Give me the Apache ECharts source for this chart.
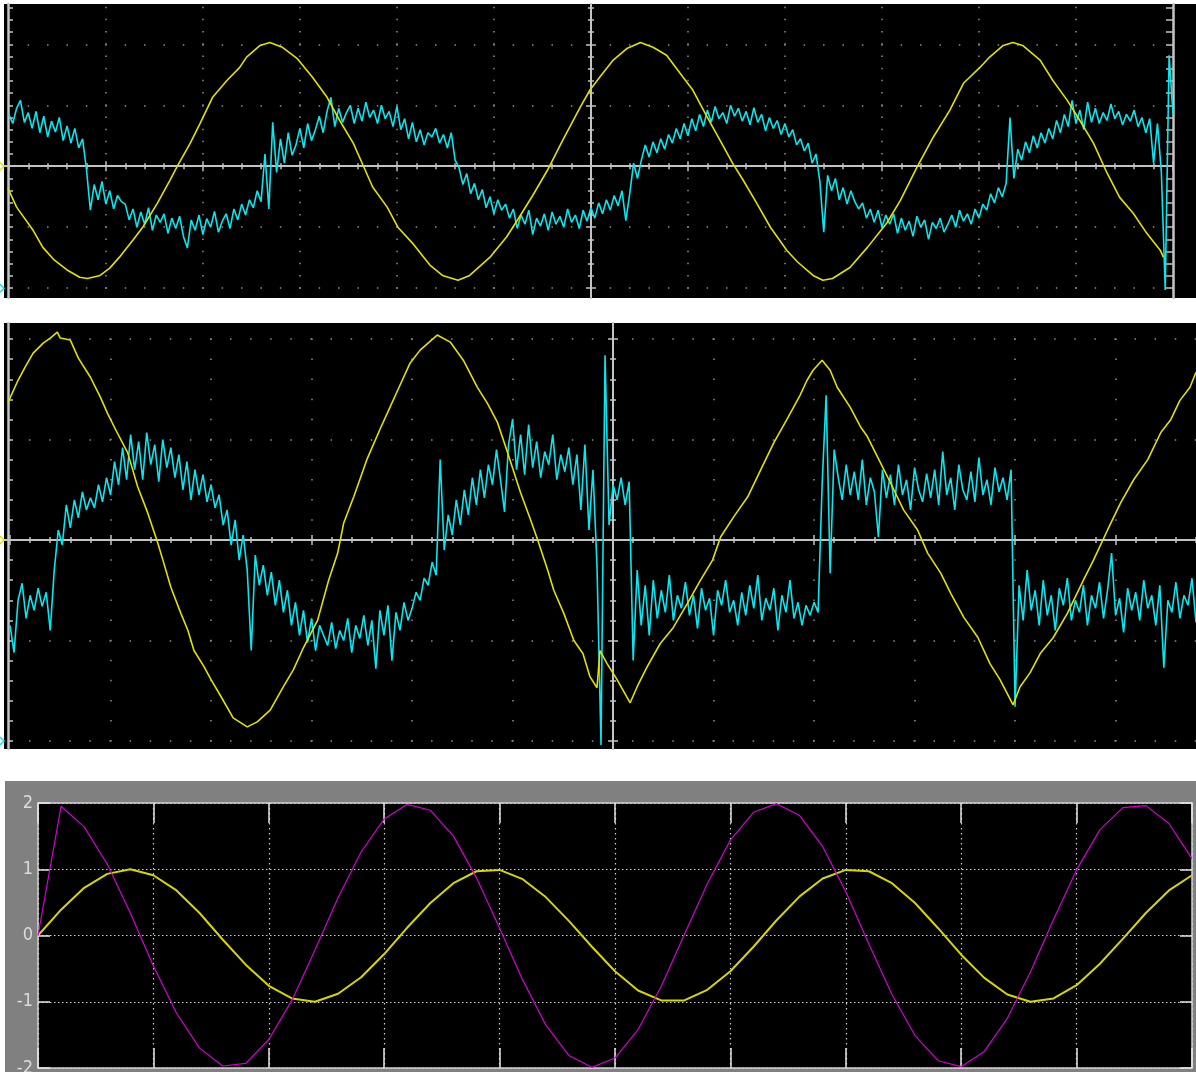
<!DOCTYPE html>
<html>
<head>
<meta charset="utf-8">
<title>scope captures</title>
<script src="https://cdn.jsdelivr.net/npm/echarts@6.0.0/dist/echarts.min.js"></script>
<style>
  html, body { margin: 0; padding: 0; background: #fff; }
  #chart { width: 1196px; height: 1072px; }
</style>
</head>
<body>
<div id="chart"></div>
<script>
// values
// scope units are divisions from the screen centre (x to the right, y up)

// ---- top capture ----
var scope1Yellow = [
  [-6.01, -0.36], [-5.92, -0.67], [-5.75, -1.05], [-5.65, -1.33], [-5.53, -1.54], [-5.40, -1.70],
  [-5.27, -1.82], [-5.19, -1.84], [-5.06, -1.79], [-4.96, -1.67], [-4.86, -1.49], [-4.72, -1.21],
  [-4.62, -1.00], [-4.47, -0.61], [-4.34, -0.23], [-4.27, -0.02], [-4.13, 0.38], [-4.03, 0.70],
  [-3.90, 1.13], [-3.75, 1.41], [-3.62, 1.62], [-3.55, 1.79], [-3.41, 1.98], [-3.31, 2.03],
  [-3.18, 1.95], [-3.03, 1.77], [-2.87, 1.46], [-2.72, 1.13], [-2.59, 0.75], [-2.45, 0.38],
  [-2.35, 0.02], [-2.25, -0.34], [-2.10, -0.67], [-1.99, -1.00], [-1.84, -1.26], [-1.66, -1.62],
  [-1.53, -1.79], [-1.37, -1.87], [-1.25, -1.79], [-1.04, -1.49], [-0.87, -1.16], [-0.76, -0.89],
  [-0.60, -0.48], [-0.45, -0.07], [-0.29, 0.43], [-0.11, 0.97], [-0.01, 1.25], [0.09, 1.46],
  [0.23, 1.74], [0.37, 1.93], [0.51, 2.03], [0.64, 1.95], [0.78, 1.82], [0.95, 1.46],
  [1.05, 1.25], [1.20, 0.80], [1.33, 0.43], [1.46, 0.05], [1.57, -0.23], [1.71, -0.61],
  [1.85, -1.00], [2.02, -1.38], [2.13, -1.57], [2.29, -1.79], [2.39, -1.87], [2.49, -1.84],
  [2.67, -1.66], [2.85, -1.33], [3.05, -0.93], [3.19, -0.56], [3.36, -0.02], [3.53, 0.48],
  [3.70, 0.92], [3.84, 1.36], [4.01, 1.62], [4.11, 1.79], [4.25, 1.98], [4.35, 2.03],
  [4.45, 1.98], [4.63, 1.74], [4.76, 1.41], [4.91, 1.08], [5.04, 0.75], [5.18, 0.38],
  [5.32, -0.11], [5.45, -0.51], [5.59, -0.77], [5.73, -1.10], [5.87, -1.38], [5.90, -1.49]
];
var scope1CyanStart = -6;
var scope1CyanStep = 0.04;
var scope1Cyan = [
  0.85, 0.70, 0.95, 1.08, 0.72, 0.88, 0.62, 0.90, 0.55, 0.82,
  0.48, 0.74, 0.56, 0.80, 0.42, 0.66, 0.38, 0.62, 0.30, 0.45,
  -0.05, -0.72, -0.30, -0.55, -0.25, -0.62, -0.40, -0.70, -0.48, -0.58,
  -0.62, -0.88, -0.70, -1.00, -0.75, -0.95, -0.68, -1.05, -0.80, -0.92,
  -0.78, -1.10, -0.85, -1.02, -0.82, -1.15, -1.34, -0.88, -1.05, -0.80,
  -1.12, -0.86, -1.00, -0.74, -1.08, -0.90, -0.78, -1.02, -0.70, -0.88,
  -0.62, -0.80, -0.55, -0.68, -0.40, -0.58, 0.20, -0.70, 0.72, -0.10,
  0.45, 0.05, 0.55, 0.18, 0.35, 0.62, 0.30, 0.70, 0.42, 0.60,
  0.82, 0.55, 0.90, 1.13, 0.65, 0.95, 0.72, 0.88, 1.00, 0.70,
  0.95, 0.74, 1.05, 0.80, 0.92, 0.70, 1.00, 0.78, 0.90, 0.65,
  0.98, 0.60, 0.78, 0.45, 0.72, 0.40, 0.60, 0.35, 0.55, 0.48,
  0.62, 0.38, 0.52, 0.30, 0.55, 0.10, -0.02, -0.30, -0.12, -0.45,
  -0.28, -0.55, -0.38, -0.68, -0.50, -0.78, -0.55, -0.72, -0.62, -0.85,
  -0.70, -1.02, -0.80, -0.95, -0.72, -1.12, -0.85, -0.98, -0.78, -1.05,
  -0.75, -0.95, -0.82, -1.00, -0.70, -0.92, -0.80, -1.02, -0.72, -0.90,
  -0.68, -0.85, -0.60, -0.78, -0.55, -0.72, -0.48, -0.65, -0.40, -0.89,
  -0.45, 0.05, -0.20, 0.10, 0.35, 0.15, 0.40, 0.22, 0.45, 0.28,
  0.52, 0.38, 0.62, 0.45, 0.70, 0.50, 0.78, 0.58, 0.85, 0.65,
  0.92, 0.72, 0.98, 0.78, 0.88, 0.70, 1.00, 0.82, 0.95, 0.74,
  0.90, 0.68, 0.96, 0.72, 0.85, 0.58, 0.80, 0.62, 0.75, 0.52,
  0.70, 0.48, 0.60, 0.35, 0.45, 0.25, 0.38, 0.05, 0.20, -0.25,
  -1.08, -0.15, -0.40, -0.20, -0.55, -0.35, -0.62, -0.40, -0.58, -0.70,
  -0.60, -0.85, -0.70, -0.92, -0.72, -1.00, -0.80, -0.95, -0.78, -1.10,
  -0.85, -1.05, -0.90, -1.15, -0.82, -1.00, -0.88, -1.20, -0.92, -1.02,
  -0.85, -1.08, -0.95, -0.80, -1.00, -0.72, -0.90, -0.78, -0.95, -0.70,
  -0.85, -0.62, -0.72, -0.45, -0.60, -0.35, -0.50, -0.28, 0.80, -0.20,
  0.28, 0.10, 0.40, 0.22, 0.50, 0.30, 0.55, 0.38, 0.62, 0.45,
  0.75, 0.55, 0.85, 0.65, 1.08, 0.70, 0.92, 0.60, 1.05, 0.72,
  0.95, 0.70, 0.88, 0.75, 1.02, 0.78, 0.90, 0.68, 0.85, 0.74,
  0.92, 0.65, 0.80, 0.55, 0.78, 0.05, 0.70, -0.10, -2.03, 1.82,
  0.85
];

// ---- middle capture ----
var scope2Yellow = [
  [-6.02, 1.37], [-5.92, 1.59], [-5.85, 1.72], [-5.77, 1.86], [-5.67, 1.96], [-5.60, 2.01],
  [-5.53, 2.07], [-5.50, 2.01], [-5.40, 1.99], [-5.32, 1.81], [-5.20, 1.62], [-5.10, 1.42],
  [-5.03, 1.26], [-4.95, 1.10], [-4.83, 0.87], [-4.73, 0.53], [-4.63, 0.27], [-4.53, -0.03],
  [-4.47, -0.23], [-4.40, -0.47], [-4.30, -0.73], [-4.23, -0.90], [-4.17, -1.10], [-4.07, -1.26],
  [-4.00, -1.39], [-3.90, -1.56], [-3.78, -1.77], [-3.64, -1.86], [-3.54, -1.81], [-3.41, -1.69],
  [-3.28, -1.46], [-3.18, -1.29], [-3.08, -1.07], [-2.94, -0.80], [-2.83, -0.40], [-2.74, -0.13],
  [-2.68, 0.17], [-2.58, 0.43], [-2.45, 0.80], [-2.32, 1.10], [-2.22, 1.32], [-2.12, 1.54],
  [-2.02, 1.76], [-1.92, 1.89], [-1.75, 2.04], [-1.62, 1.97], [-1.49, 1.79], [-1.35, 1.52],
  [-1.25, 1.36], [-1.15, 1.17], [-1.05, 0.87], [-0.92, 0.47], [-0.82, 0.20], [-0.75, 0.00],
  [-0.65, -0.30], [-0.59, -0.50], [-0.49, -0.73], [-0.39, -1.00], [-0.30, -1.13], [-0.23, -1.36],
  [-0.16, -1.47], [-0.13, -1.10], [-0.06, -1.23], [0.04, -1.39], [0.17, -1.62], [0.24, -1.46],
  [0.34, -1.26], [0.47, -1.03], [0.60, -0.87], [0.74, -0.63], [0.87, -0.40], [0.99, -0.20],
  [1.07, 0.03], [1.20, 0.23], [1.34, 0.43], [1.47, 0.70], [1.60, 0.97], [1.73, 1.20],
  [1.86, 1.44], [1.93, 1.59], [1.99, 1.69], [2.08, 1.79], [2.16, 1.69], [2.23, 1.52],
  [2.36, 1.32], [2.46, 1.13], [2.53, 1.03], [2.63, 0.83], [2.76, 0.57], [2.89, 0.30],
  [3.03, 0.10], [3.13, -0.13], [3.26, -0.33], [3.36, -0.53], [3.49, -0.77], [3.63, -0.97],
  [3.75, -1.23], [3.85, -1.39], [3.98, -1.64], [4.05, -1.46], [4.15, -1.32], [4.25, -1.13],
  [4.38, -0.97], [4.52, -0.73], [4.68, -0.40], [4.78, -0.20], [4.92, 0.10], [5.05, 0.37],
  [5.18, 0.60], [5.32, 0.80], [5.45, 1.07], [5.55, 1.20], [5.64, 1.39], [5.74, 1.52],
  [5.80, 1.67]
];
var scope2CyanStart = -6;
var scope2CyanStep = 0.04;
var scope2Cyan = [
  -0.85, -1.12, -0.60, -0.43, -0.78, -0.55, -0.70, -0.48, -0.66, -0.52,
  -0.90, -0.30, 0.10, -0.05, 0.35, 0.12, 0.40, 0.22, 0.48, 0.30,
  0.42, 0.32, 0.55, 0.38, 0.62, 0.45, 0.78, 0.55, 0.92, 0.60,
  1.05, 0.70, 0.98, 0.60, 1.07, 0.75, 0.95, 0.58, 1.00, 0.72,
  0.92, 0.62, 0.85, 0.50, 0.78, 0.40, 0.70, 0.45, 0.65, 0.38,
  0.55, 0.32, 0.45, 0.15, 0.30, -0.05, 0.20, -0.20, 0.05, -0.30,
  -1.10, -0.15, -0.45, -0.25, -0.55, -0.32, -0.65, -0.40, -0.72, -0.50,
  -0.85, -0.62, -0.95, -0.70, -1.02, -0.78, -1.10, -0.85, -0.95, -1.05,
  -0.82, -1.08, -0.90, -1.00, -0.78, -1.12, -0.85, -0.98, -0.75, -1.05,
  -0.80, -1.28, -0.70, -0.95, -0.65, -1.20, -0.72, -0.90, -0.62, -0.80,
  -0.68, -0.52, -0.60, -0.38, -0.45, -0.22, -0.35, 0.80, -0.10, 0.25,
  0.05, 0.40, 0.15, 0.50, 0.25, 0.62, 0.35, 0.70, 0.42, 0.75,
  0.55, 0.90, 0.60, 0.28, 0.95, 1.20, 0.70, 1.05, 0.65, 1.15,
  0.72, 0.98, 0.62, 0.88, 0.75, 1.05, 0.60, 0.85, 0.68, 0.92,
  0.55, 0.85, 0.30, 0.95, 0.10, 0.70, -0.25, -2.04, 1.84, 0.15,
  0.55, 0.40, 0.62, 0.35, 0.58, -1.20, -0.30, -0.85, -0.45, -0.95,
  -0.40, -0.78, -0.50, -0.72, -0.35, -0.80, -0.55, -0.68, -0.42, -0.75,
  -0.55, -0.88, -0.48, -0.70, -0.58, -0.95, -0.50, -0.65, -0.40, -0.72,
  -0.60, -0.85, -0.52, -0.75, -0.45, -0.68, -0.35, -0.80, -0.58, -0.70,
  -0.48, -0.90, -0.55, -0.72, -0.40, -0.78, -0.62, -0.85, -0.65, -0.75,
  -0.62, -0.72, 0.55, 1.44, -0.33, 0.90, 0.62, 0.40, 0.75, 0.45,
  0.68, 0.40, 0.80, 0.35, 0.62, 0.48, 0.03, 0.70, 0.42, 0.65,
  0.35, 0.75, 0.45, 0.60, 0.30, 0.72, 0.50, 0.38, 0.66, 0.42,
  0.70, 0.35, 0.88, 0.45, 0.62, 0.30, 0.75, 0.50, 0.40, 0.68,
  0.38, 0.82, 0.45, 0.60, 0.35, 0.72, 0.48, 0.62, 0.40, 0.70,
  -1.66, -0.45, -0.80, -0.30, -0.70, -0.50, -0.85, -0.40, -0.75, -0.55,
  -0.90, -0.48, -0.65, -0.38, -0.80, -0.60, -0.72, -0.45, -0.85, -0.55,
  -0.68, -0.42, -0.78, -0.50, -0.13, -0.75, -0.58, -0.92, -0.48, -0.70,
  -0.52, -0.80, -0.40, -0.68, -0.55, -0.85, -0.45, -1.27, -0.60, -0.72,
  -0.42, -0.78, -0.55, -0.65, -0.38, -0.82, -0.60
];

// ---- bottom: simulation scope, sample time 0.2 ----
var simStep = 0.2;
var simSine = [
  0, 0.39, 0.72, 0.93, 1.00, 0.91, 0.68, 0.34, -0.06, -0.44,
  -0.76, -0.95, -1.00, -0.88, -0.63, -0.28, 0.12, 0.49, 0.79, 0.97,
  0.99, 0.85, 0.58, 0.22, -0.17, -0.54, -0.83, -0.98, -0.98, -0.82,
  -0.54, -0.17, 0.23, 0.59, 0.86, 0.99, 0.97, 0.79, 0.49, 0.11,
  -0.29, -0.64, -0.89, -1.00, -0.95, -0.75, -0.43, -0.05, 0.34, 0.68,
  0.91
];
var simDeriv = [
  0, 1.95, 1.64, 1.08, 0.34, -0.46, -1.17, -1.70, -1.97, -1.93,
  -1.57, -0.98, -0.22, 0.57, 1.26, 1.76, 1.98, 1.89, 1.50, 0.87,
  0.11, -0.67, -1.35, -1.81, -1.99, -1.85, -1.42, -0.77, 0.01, 0.78,
  1.44, 1.86, 1.99, 1.81, 1.34, 0.66, -0.13, -0.89, -1.51, -1.89,
  -1.98, -1.75, -1.25, -0.55, 0.24, 0.99, 1.59, 1.93, 1.96, 1.69,
  1.16
];
var simXTicks = [0, 1, 2, 3, 4, 5, 6, 7, 8, 9, 10];
var simYTicks = [-2, -1, 0, 1, 2];

var YELLOW = '#e2e200';
var CYAN = '#0ae6ef';
var GRAT = '#c4c4c4';
var DOT = '#8e8e8e';

function sampled(start, step, values) {
  return values.map(function (v, i) { return [start + i * step, v]; });
}

// graticule marks every 1/5 division, major = whole divisions
function marks(lo, hi, major) {
  var out = [];
  for (var k = Math.ceil(lo * 5 - 1e-6); k <= Math.floor(hi * 5 + 1e-6); k++) {
    if ((k % 5 === 0) === major) out.push(k / 5);
  }
  return out;
}

function axisBase(g, min, max) {
  return {
    type: 'value', gridIndex: g, min: min, max: max,
    axisLine: { show: false, onZero: false },
    axisTick: { show: false },
    axisLabel: { show: false },
    splitLine: { show: false }
  };
}

function centreLine(axis, pos, ticks, len) {
  axis.position = pos;
  axis.axisLine = { show: true, onZero: true, lineStyle: { color: GRAT, width: 1.5 } };
  axis.axisTick = { show: true, inside: false, length: len, customValues: ticks,
    lineStyle: { color: GRAT, width: 1.5 } };
  return axis;
}

var grids = [], xAxes = [], yAxes = [], series = [];

function addScope(s) {
  var g = grids.length;
  grids.push({ left: s.left, top: s.top, width: s.width, height: s.height, outerBoundsMode: 'none' });
  var xi = xAxes.length, yi = yAxes.length;
  var xMinor = marks(s.xMin, s.xMax, false), xMajor = marks(s.xMin, s.xMax, true);
  var yMinor = marks(s.yMin, s.yMax, false), yMajor = marks(s.yMin, s.yMax, true);

  xAxes.push(centreLine(axisBase(g, s.xMin, s.xMax), 'bottom', xMinor, 3));
  xAxes.push(centreLine(axisBase(g, s.xMin, s.xMax), 'top', xMinor, 3));
  xAxes.push(centreLine(axisBase(g, s.xMin, s.xMax), 'bottom', xMajor, 5));
  xAxes.push(centreLine(axisBase(g, s.xMin, s.xMax), 'top', xMajor, 5));
  var xDots = axisBase(g, s.xMin, s.xMax);
  xDots.axisTick = { show: false, customValues: xMajor.filter(function (v) { return v !== 0 && Math.abs(v) < 6; }) };
  xDots.splitLine = { show: true, lineStyle: { color: DOT, width: 1.5, type: [1.5, s.colGap - 1.5], dashOffset: s.colOffset } };
  xAxes.push(xDots);

  yAxes.push(centreLine(axisBase(g, s.yMin, s.yMax), 'left', yMinor, 3));
  yAxes.push(centreLine(axisBase(g, s.yMin, s.yMax), 'right', yMinor, 3));
  yAxes.push(centreLine(axisBase(g, s.yMin, s.yMax), 'left', yMajor, 5));
  yAxes.push(centreLine(axisBase(g, s.yMin, s.yMax), 'right', yMajor, 5));

  var leftFrame = axisBase(g, s.yMin, s.yMax);
  leftFrame.position = 'left';
  leftFrame.offset = s.leftOffset;
  leftFrame.axisLine = { show: true, onZero: false, lineStyle: { color: GRAT, width: 2.5 } };
  leftFrame.axisTick = { show: true, inside: true, length: 5, customValues: yMinor.concat(yMajor),
    lineStyle: { color: GRAT, width: 1.5 } };
  yAxes.push(leftFrame);

  if (s.rightFrame) {
    var rightFrame = axisBase(g, s.yMin, s.yMax);
    rightFrame.position = 'right';
    rightFrame.axisLine = { show: true, onZero: false, lineStyle: { color: GRAT, width: 2.5 } };
    rightFrame.axisTick = { show: true, inside: true, length: 7, customValues: yMinor.concat(yMajor),
      lineStyle: { color: GRAT, width: 1.5 } };
    yAxes.push(rightFrame);
  }

  var yDots = axisBase(g, s.yMin, s.yMax);
  yDots.axisTick = { show: false, customValues: yMajor.filter(function (v) { return v !== 0; }) };
  yDots.splitLine = { show: true, lineStyle: { color: DOT, width: 1.5, type: [1.5, s.rowGap - 1.5], dashOffset: s.rowOffset } };
  yAxes.push(yDots);

  return { x: xi, y: yi };
}

var scope1 = addScope({
  left: 4, top: 4, width: 1169, height: 294,
  xMin: -6.05, xMax: 6.0, yMin: -2.16, yMax: 2.66,
  leftOffset: -4, rightFrame: true,
  rowGap: 19.4, rowOffset: 15.15, colGap: 12.2, colOffset: 9.55
});
var scope2 = addScope({
  left: 4, top: 323, width: 1192, height: 426,
  xMin: -6.06, xMax: 5.80, yMin: -2.08, yMax: 2.16,
  leftOffset: -4, rightFrame: false,
  rowGap: 20.1, rowOffset: 15.15, colGap: 20.08, colOffset: 4.63
});

function trace(axes, data, color, width, z) {
  return {
    type: 'line', xAxisIndex: axes.x, yAxisIndex: axes.y, data: data,
    symbol: 'none', showSymbol: false, z: z,
    lineStyle: { color: color, width: width }
  };
}

series.push(trace(scope1, sampled(scope1CyanStart, scope1CyanStep, scope1Cyan), CYAN, 1.6, 3));
series.push(trace(scope1, scope1Yellow, YELLOW, 1.6, 4));
series.push(trace(scope2, sampled(scope2CyanStart, scope2CyanStep, scope2Cyan), CYAN, 1.6, 3));
series.push(trace(scope2, scope2Yellow, YELLOW, 1.6, 4));

// simulation scope
var FRAME = '#d2d2d2';
var g3 = grids.length;
grids.push({ left: 38, top: 803, width: 1154, height: 265, show: true, backgroundColor: '#000',
  borderWidth: 0, outerBoundsMode: 'none' });
var sim = { x: xAxes.length, y: yAxes.length };
xAxes.push({
  type: 'value', gridIndex: g3, min: 0, max: 10, position: 'bottom',
  axisLine: { show: true, onZero: false, lineStyle: { color: FRAME, width: 1.5 } },
  axisTick: { show: true, inside: true, length: 20, customValues: simXTicks, lineStyle: { color: '#e6e6e6', width: 1.5 } },
  axisLabel: { show: false },
  splitLine: { show: true, lineStyle: { color: '#d0d0d0', width: 1.2, type: [1.5, 3.5] } }
});
xAxes.push({
  type: 'value', gridIndex: g3, min: 0, max: 10, position: 'top',
  axisLine: { show: true, onZero: false, lineStyle: { color: FRAME, width: 1.5 } },
  axisTick: { show: true, inside: true, length: 20, customValues: simXTicks, lineStyle: { color: '#e6e6e6', width: 1.5 } },
  axisLabel: { show: false },
  splitLine: { show: false }
});
yAxes.push({
  type: 'value', gridIndex: g3, min: -2, max: 2, position: 'left',
  axisLine: { show: true, onZero: false, lineStyle: { color: FRAME, width: 1.5 } },
  axisTick: { show: true, inside: true, length: 12, customValues: simYTicks, lineStyle: { color: '#e6e6e6', width: 1.5 } },
  axisLabel: { show: true, customValues: simYTicks, margin: 5, color: '#dcdcdc', fontSize: 18,
    fontFamily: "'Liberation Sans Narrow', 'DejaVu Sans Condensed', sans-serif",
    showMinLabel: true, showMaxLabel: true },
  splitLine: { show: true, lineStyle: { color: '#d0d0d0', width: 1.2, type: [1.5, 2.5] } }
});
yAxes.push({
  type: 'value', gridIndex: g3, min: -2, max: 2, position: 'right',
  axisLine: { show: true, onZero: false, lineStyle: { color: FRAME, width: 1.5 } },
  axisTick: { show: true, inside: true, length: 12, customValues: simYTicks, lineStyle: { color: '#e6e6e6', width: 1.5 } },
  axisLabel: { show: false },
  splitLine: { show: false }
});
series.push({
  type: 'line', xAxisIndex: sim.x, yAxisIndex: sim.y, data: sampled(0, simStep, simSine),
  symbol: 'none', z: 3, lineStyle: { color: '#d6d600', width: 2 }
});
series.push({
  type: 'line', xAxisIndex: sim.x, yAxisIndex: sim.y, data: sampled(0, simStep, simDeriv),
  symbol: 'none', z: 4, lineStyle: { color: '#d200d2', width: 1.2 }
});

var chart = echarts.init(document.getElementById('chart'), null, { renderer: 'canvas' });
chart.setOption({
  animation: false,
  backgroundColor: '#ffffff',
  graphic: [
    { id: 'bg1', type: 'rect', z: -10, silent: true, shape: { x: 4, y: 4, width: 1192, height: 294 }, style: { fill: '#000' } },
    { id: 'bg2', type: 'rect', z: -10, silent: true, shape: { x: 4, y: 323, width: 1192, height: 426 }, style: { fill: '#000' } },
    { id: 'bg3', type: 'rect', z: -10, silent: true, shape: { x: 5, y: 781, width: 1191, height: 291 }, style: { fill: '#808080' } }
  ],
  grid: grids,
  xAxis: xAxes,
  yAxis: yAxes,
  series: series
});

// channel ground markers at the left edge of each capture
var groundMarks = [
  { axes: scope1, level: 0, color: YELLOW },
  { axes: scope1, level: -2, color: CYAN },
  { axes: scope2, level: 0, color: YELLOW },
  { axes: scope2, level: -2, color: CYAN }
];
chart.setOption({
  graphic: groundMarks.map(function (m, i) {
    var y = chart.convertToPixel({ xAxisIndex: m.axes.x, yAxisIndex: m.axes.y }, [0, m.level])[1];
    return { id: 'gnd' + i, type: 'polyline', z: 10, silent: true,
      shape: { points: [[0, y - 4], [4, y], [0, y + 4]] },
      style: { stroke: m.color, lineWidth: 1.5, fill: null } };
  })
});
window.onresize = chart.resize;
</script>
</body>
</html>
